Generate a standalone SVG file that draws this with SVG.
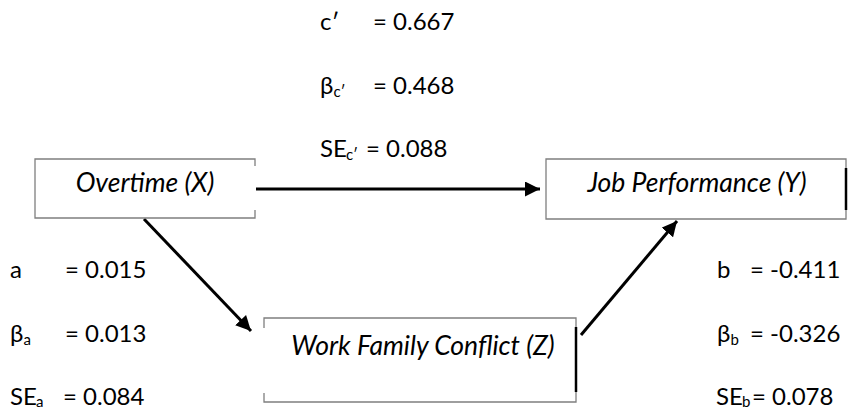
<svg xmlns="http://www.w3.org/2000/svg" width="866" height="411" viewBox="0 0 866 411">
<defs>
<style>
.box{fill:#ffffff;stroke:none}
.edge{stroke:#7f7f7f;stroke-width:1.3;fill:none}
.dark{stroke:#000000;stroke-width:2.5;fill:none}
.node{font-family:Lato,"Liberation Sans",sans-serif;font-size:26.5px;font-style:italic;fill:#000000;text-anchor:middle}
.lbl{font-family:Lato,"Liberation Sans",sans-serif;font-size:24px;fill:#000000}
.sub{font-size:15px}
.conn{stroke:#000000;stroke-width:3;fill:none}
</style>
<marker id="ah" viewBox="0 0 10 10" refX="10" refY="5" markerWidth="5" markerHeight="5" markerUnits="strokeWidth" orient="auto">
<path d="M0,0 L10,5 L0,10 Z" fill="#000000"/>
</marker>
</defs>
<rect width="866" height="411" fill="#ffffff"/>

<g id="connectors">
<line class="conn" x1="256" y1="189" x2="540" y2="189" marker-end="url(#ah)"/>
<line class="conn" x1="144" y1="219" x2="251" y2="331" marker-end="url(#ah)"/>
<line class="conn" x1="581" y1="335" x2="677" y2="221" marker-end="url(#ah)"/>
</g>

<g id="node-overtime">
<rect class="box" x="35" y="159" width="220" height="59"/>
<path class="edge" d="M255,166 V159 H35 V218 H255 V210"/>
<text class="node" x="145" y="192">Overtime (X)</text>
</g>

<g id="node-jobperformance">
<rect class="box" x="546" y="159" width="300" height="60"/>
<path class="edge" d="M846,168 V159 H546 V219 H846 V210"/>
<line class="dark" x1="846" y1="168" x2="846" y2="210"/>
<text class="node" x="697" y="192">Job Performance (Y)</text>
</g>

<g id="node-workfamily">
<rect class="box" x="264" y="318" width="312" height="84"/>
<path class="edge" d="M264,328 V318 H576 V327"/>
<path class="edge" d="M264,393 V402 H576 V392"/>
<line class="dark" x1="576" y1="327" x2="576" y2="392"/>
<text class="node" x="423" y="355">Work Family Conflict (Z)</text>
</g>

<g id="labels-c">
<text class="lbl" x="320" y="30">c′</text>
<text class="lbl" x="373" y="30">= 0.667</text>
<text class="lbl" x="320" y="94">β<tspan class="sub" dy="3">c′</tspan></text>
<text class="lbl" x="373" y="94">= 0.468</text>
<text class="lbl" x="320" y="157">SE<tspan class="sub" dx="-1" dy="3">c′</tspan></text>
<text class="lbl" x="366" y="157">= 0.088</text>
</g>

<g id="labels-a">
<text class="lbl" x="10" y="278">a</text>
<text class="lbl" x="65" y="278">= 0.015</text>
<text class="lbl" x="10" y="342">β<tspan class="sub" dy="3">a</tspan></text>
<text class="lbl" x="65" y="342">= 0.013</text>
<text class="lbl" x="10" y="405">SE<tspan class="sub" dx="-1" dy="2">a</tspan></text>
<text class="lbl" x="63" y="405">= 0.084</text>
</g>

<g id="labels-b">
<text class="lbl" x="717" y="278">b</text>
<text class="lbl" x="750" y="278">= -0.411</text>
<text class="lbl" x="717" y="342">β<tspan class="sub" dy="3">b</tspan></text>
<text class="lbl" x="750" y="342">= -0.326</text>
<text class="lbl" x="716" y="405">SE<tspan class="sub" dx="-1" dy="2">b</tspan></text>
<text class="lbl" x="752" y="405">= 0.078</text>
</g>
</svg>
